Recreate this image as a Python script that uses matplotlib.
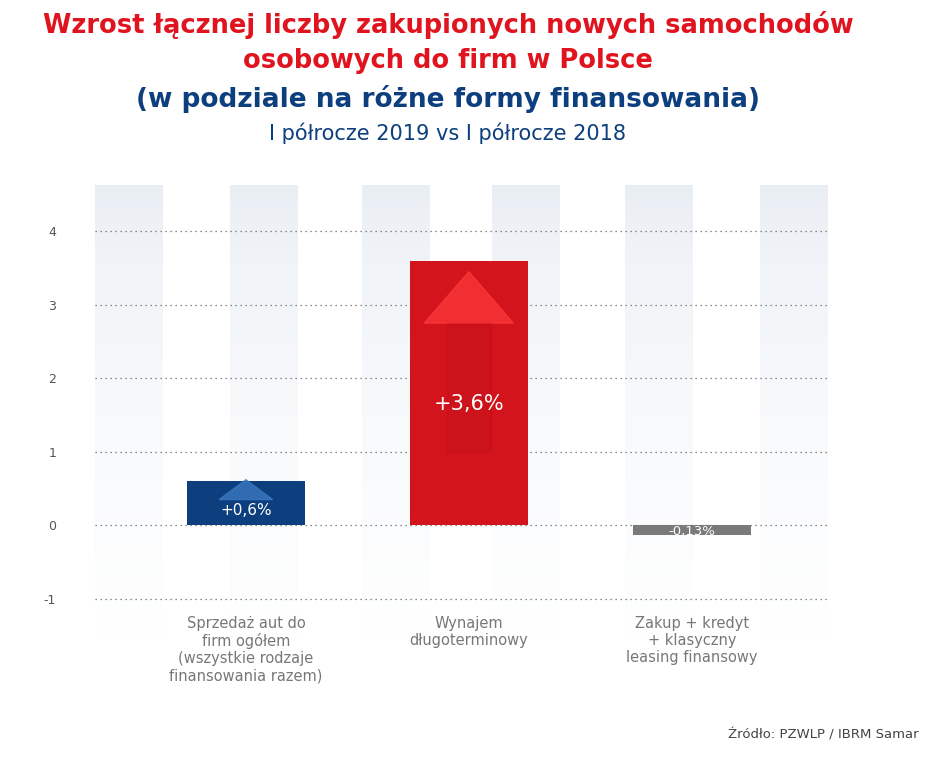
import matplotlib.pyplot as plt
import numpy as np
from matplotlib.patches import Polygon

categories = ['Sprzedaż aut do\nfirm ogółem\n(wszystkie rodzaje\nfinansowania razem)',
              'Wynajem\ndługoterminowy',
              'Zakup + kredyt\n+ klasyczny\nleasing finansowy']
values = [0.6, 3.6, -0.13]
value_labels = ['+0,6%', '+3,6%', '-0,13%']
bar_colors = ['#0d3f7e', '#d3141c', '#7a7a7a']
y_ticks = [-1, 0, 1, 2, 3, 4]

fig = plt.figure(figsize=(9.33, 7.58), dpi=100)
ax = fig.add_axes([0.1018, 0.1557, 0.7878, 0.6003])
ax.set_xlim(-0.677, 2.62)
ax.set_ylim(-1.56, 4.63)

# background stripes fading downwards
grad = np.linspace(1, 0, 256).reshape(-1, 1)
top = np.array([0.91, 0.93, 0.955])
img = top + (1 - top) * (1 - grad[..., None]) ** 0.6
img = np.repeat(img, 2, axis=1)
for left in [0, 0.184, 0.363, 0.540, 0.721, 0.905]:
    ax.imshow(img, extent=(left, left + 0.092, 0, 1), transform=ax.transAxes,
              aspect='auto', zorder=0)

for y in y_ticks:
    ax.axhline(y, color='#666666', ls=(0, (1, 3)), lw=0.9, zorder=1)

x = np.arange(len(values))
ax.bar(x, values, width=0.53, color=bar_colors, zorder=2)

# arrows inside bars
ax.add_patch(Polygon([[-0.12, 0.35], [0.12, 0.35], [0, 0.62]], closed=True,
                     color='#3b78c0', alpha=0.8, zorder=3))
ax.add_patch(Polygon([[0.8, 2.75], [1.2, 2.75], [1, 3.45]], closed=True,
                     color='#ff3a3a', alpha=0.7, zorder=3))
ax.add_patch(Polygon([[0.9, 2.75], [1.1, 2.75], [1.1, 1.0], [0.9, 1.0]], closed=True,
                     color='#b80f16', alpha=0.25, zorder=3))

ax.text(0, 0.2, value_labels[0], color='white', ha='center', va='center', fontsize=11, zorder=4)
ax.text(1, 1.65, value_labels[1], color='white', ha='center', va='center', fontsize=15, zorder=4)
ax.text(2, -0.08, value_labels[2], color='white', ha='center', va='center', fontsize=9.5, zorder=4)

ax.set_yticks(y_ticks)
ax.set_yticklabels([str(t) for t in y_ticks], color='#555555', fontsize=9)
ax.tick_params(axis='y', length=0, pad=28)
ax.set_xticks([])
for s in ax.spines.values():
    s.set_visible(False)

for i, c in enumerate(categories):
    ax.text(i, -1.24, c, ha='center', va='top', color='#777777', fontsize=10.5, linespacing=1.15)

fig.text(0.48, 0.967, 'Wzrost łącznej liczby zakupionych nowych samochodów', ha='center', va='center',
         color='#e0141e', fontsize=18.5, fontweight='bold')
fig.text(0.48, 0.920, 'osobowych do firm w Polsce', ha='center', va='center',
         color='#e0141e', fontsize=18.5, fontweight='bold')
fig.text(0.48, 0.870, '(w podziale na różne formy finansowania)', ha='center', va='center',
         color='#0d3f7e', fontsize=19, fontweight='bold')
fig.text(0.48, 0.824, 'I półrocze 2019 vs I półrocze 2018', ha='center', va='center',
         color='#0d3f7e', fontsize=15)
fig.text(0.985, 0.022, 'Źródło: PZWLP / IBRM Samar', ha='right', va='bottom',
         color='#444444', fontsize=9.5)

fig.savefig('out.png', dpi=100, facecolor='white')
